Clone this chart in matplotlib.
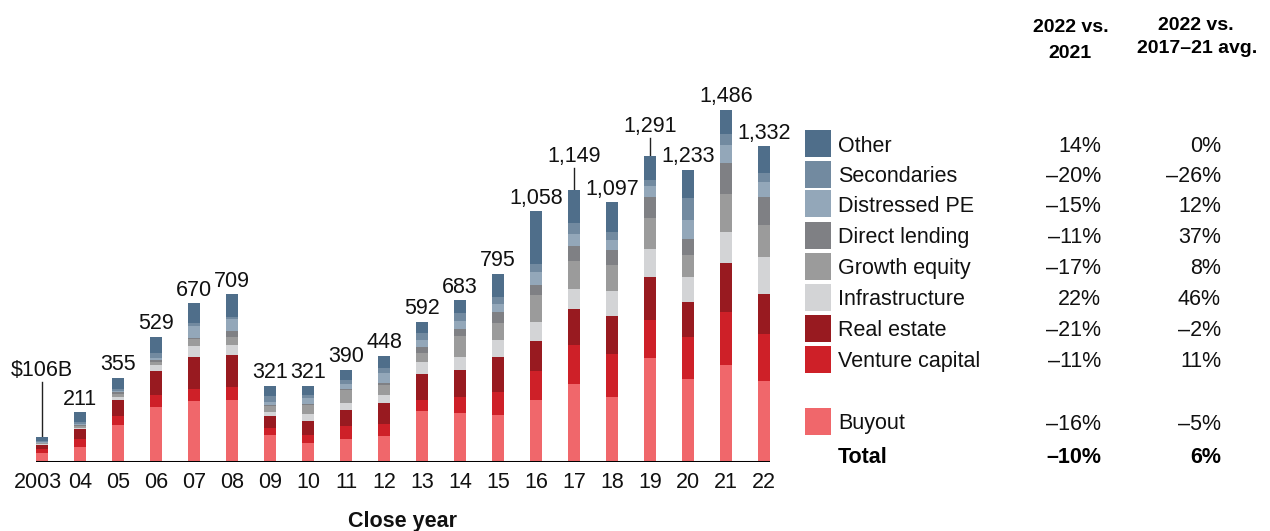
import matplotlib
matplotlib.use("Agg")
import matplotlib.pyplot as plt
import matplotlib.transforms as mtransforms
from matplotlib.patches import Rectangle

plt.rcParams['font.family'] = ['Liberation Sans', 'DejaVu Sans']

# close years and the printed totals ($B)
years = ['2003', '04', '05', '06', '07', '08', '09', '10', '11', '12',
         '13', '14', '15', '16', '17', '18', '19', '20', '21', '22']
totals = [106, 211, 355, 529, 670, 709, 321, 321, 390, 448,
          592, 683, 795, 1058, 1149, 1097, 1291, 1233, 1486, 1332]

# stacked segments, bottom to top
buyout = [38, 63, 156, 232, 257, 262, 114, 80, 97, 110, 215, 207, 197, 260, 328, 273, 439, 349, 408, 343]
venture = [17, 34, 38, 51, 51, 55, 30, 34, 55, 50, 47, 67, 97, 123, 164, 181, 159, 177, 224, 199]
real_estate = [18, 42, 68, 101, 135, 135, 50, 59, 67, 89, 109, 114, 148, 126, 152, 161, 181, 148, 210, 166]
infra = [2, 5, 12, 25, 47, 42, 17, 30, 30, 34, 51, 55, 72, 81, 85, 105, 119, 105, 130, 159]
growth = [4, 8, 13, 13, 29, 34, 25, 38, 55, 42, 38, 89, 71, 114, 118, 110, 130, 93, 161, 134]
direct = [3, 4, 8, 9, 4, 25, 5, 4, 4, 8, 25, 29, 47, 42, 63, 63, 89, 68, 131, 117]
distressed = [2, 5, 5, 8, 51, 51, 12, 25, 21, 43, 30, 34, 34, 55, 51, 43, 47, 80, 76, 65]
secondaries = [3, 9, 8, 21, 13, 8, 26, 13, 17, 21, 29, 34, 29, 33, 46, 33, 25, 93, 46, 37]
other = [19, 41, 47, 69, 83, 97, 42, 38, 44, 51, 48, 54, 100, 224, 142, 128, 102, 120, 100, 112]

# table on the right, top to bottom
names = ['Other', 'Secondaries', 'Distressed PE', 'Direct lending', 'Growth equity',
         'Infrastructure', 'Real estate', 'Venture capital', 'Buyout']
vs_2021 = [14, -20, -15, -11, -17, 22, -21, -11, -16]
vs_avg = [0, -26, 12, 37, 8, 46, -2, 11, -5]
total_vs_2021 = -10
total_vs_avg = 6

colors = {
    'Buyout': '#F0676B',
    'Venture capital': '#CE2028',
    'Real estate': '#981A20',
    'Infrastructure': '#D3D4D6',
    'Growth equity': '#9B9B9B',
    'Direct lending': '#7F8084',
    'Distressed PE': '#93A7B9',
    'Secondaries': '#728AA0',
    'Other': '#4F6E8A',
}

W, H = 1270, 531
FS = 15.5   # regular text
HFS = 14    # bold column headers


def fx(px):
    return px / W


def fy(py):
    return 1 - py / H


def pct(v):
    s = '%d%%' % abs(v)
    if v < 0:
        s = '\u2013' + s
    return s


fig = plt.figure(figsize=(W / 100, H / 100), dpi=100)
base_px = 462
ax = fig.add_axes([fx(36), 1 - base_px / H, (770 - 36) / W, base_px / H])
ymax = 1950
ax.set_ylim(0, ymax)
bw = 0.31
ax.set_xlim(-bw / 2, len(years) - 1 + bw / 2)

stack = [('Buyout', buyout), ('Venture capital', venture), ('Real estate', real_estate),
         ('Infrastructure', infra), ('Growth equity', growth), ('Direct lending', direct),
         ('Distressed PE', distressed), ('Secondaries', secondaries), ('Other', other)]
x = list(range(len(years)))
bottom = [0] * len(years)
for name, vals in stack:
    ax.bar(x, vals, width=bw, bottom=bottom, color=colors[name], linewidth=0, zorder=2)
    bottom = [b + v for b, v in zip(bottom, vals)]

ax.axhline(0, color='black', lw=2.2, zorder=3)

# total labels; some raised with a leader line
upp = ymax / base_px  # data units per pixel
leaders = {0: 61, 14: 28, 16: 24.5}
for i, top in enumerate(bottom):
    lab = '$106B' if i == 0 else '{:,}'.format(totals[i])
    off = leaders.get(i, 7.5)
    ax.annotate(lab, xy=(i, top), xytext=(0, off * 0.72), textcoords='offset points',
                ha='center', va='baseline', fontsize=FS, color='#111111')
    if i in leaders:
        ax.plot([i, i], [top, top + (off - 6) * upp], color='#222222', lw=1, zorder=1)

ax.set_xticks(x)
ax.set_xticklabels(years)
ax.tick_params(axis='x', length=0, pad=7, labelsize=FS, labelcolor='#111111')
ax.set_yticks([])
for s in ax.spines.values():
    s.set_visible(False)
lbl0 = ax.get_xticklabels()[0]
lbl0.set_transform(lbl0.get_transform() + mtransforms.ScaledTranslation(-0.04, 0, fig.dpi_scale_trans))

fig.text(fx(403), fy(527), 'Close year', ha='center', va='baseline',
         fontsize=FS, fontweight='bold', color='#111111')

# headers
fig.text(fx(1071), fy(32), '2022 vs.', ha='center', va='baseline', fontsize=HFS, fontweight='bold')
fig.text(fx(1070), fy(58), '2021', ha='center', va='baseline', fontsize=HFS, fontweight='bold')
fig.text(fx(1196), fy(30), '2022 vs.', ha='center', va='baseline', fontsize=HFS, fontweight='bold')
fig.text(fx(1197), fy(53), '2017\u201321 avg.', ha='center', va='baseline', fontsize=HFS, fontweight='bold')

# legend rows
row_y = [143.5, 174, 204, 235, 266, 297, 328, 359, 421.5]
for name, cy, a, b in zip(names, row_y, vs_2021, vs_avg):
    fig.patches.append(Rectangle((fx(805), fy(cy + 13.5)), 26 / W, 27 / H,
                                 transform=fig.transFigure, color=colors[name], lw=0))
    fig.text(fx(838), fy(cy + 8), name, ha='left', va='baseline', fontsize=FS, color='#111111')
    fig.text(fx(1101), fy(cy + 8), pct(a), ha='right', va='baseline', fontsize=FS, color='#111111')
    fig.text(fx(1221), fy(cy + 8), pct(b), ha='right', va='baseline', fontsize=FS, color='#111111')

fig.text(fx(838), fy(463), 'Total', ha='left', va='baseline', fontsize=FS, fontweight='bold')
fig.text(fx(1101), fy(463), pct(total_vs_2021), ha='right', va='baseline', fontsize=FS, fontweight='bold')
fig.text(fx(1221), fy(463), pct(total_vs_avg), ha='right', va='baseline', fontsize=FS, fontweight='bold')

fig.savefig('out.png', dpi=100)
